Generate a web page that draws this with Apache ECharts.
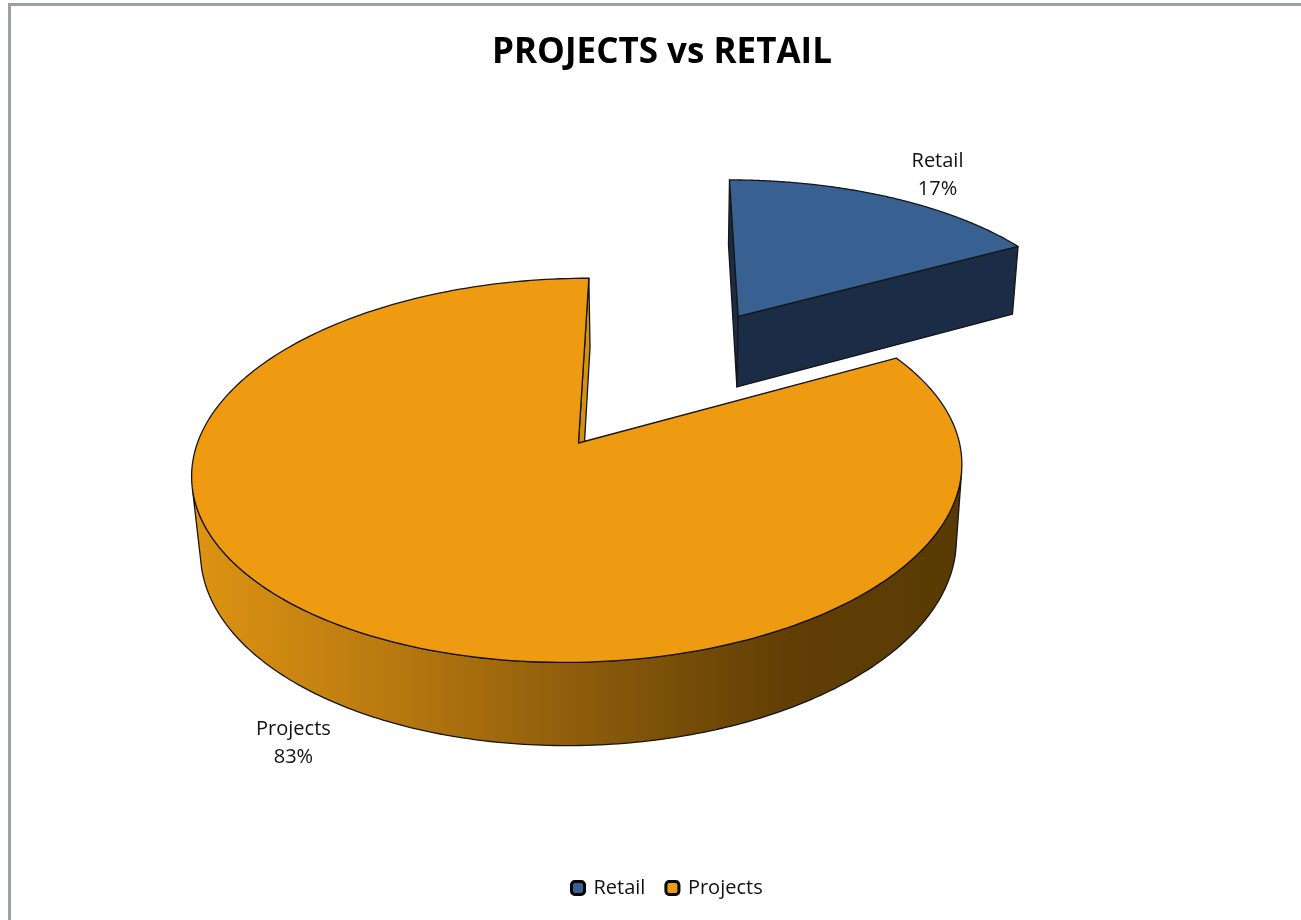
<!DOCTYPE html>
<html>
<head>
<meta charset="utf-8">
<script src="https://cdn.jsdelivr.net/npm/echarts@6/dist/echarts.min.js"></script>
<style>
  html, body { margin: 0; padding: 0; background: #ffffff; }
  #chart { width: 1301px; height: 920px; }
</style>
</head>
<body>
<div id="chart"></div>
<script>
// Share of sales by channel
const categories = ['Retail', 'Projects'];
const values = [17, 83];

// Appearance of each slice: face colours, how far it is pulled out, label offset
const sliceStyle = {
  Retail:   { top: '#386090', side: '#1B2D46', wall: '#1B2D46', explode: 0.865, labelAt: 'top',    labelOffset: [49, -22] },
  Projects: { top: '#EF9B12', side: '#D4900F', wall: null,      explode: 0,     labelAt: 'bottom', labelOffset: [-59, 34] }
};

// Perspective view of the pie (radius, thickness, tilt, camera distance, screen placement)
const view = { R: 374, H: 87, tilt: 29.6 * Math.PI / 180, D: 2330, cx: 662, cy: 443, shiftX: -82 };

const total = values.reduce((a, b) => a + b, 0);
const sinT = Math.sin(view.tilt), cosT = Math.cos(view.tilt);

// world: x right, y up, z toward viewer
function project(x, y, z) {
  const sy = z * sinT - (y - view.H) * cosT;
  const w = z * cosT + y * sinT;
  const s = view.D / (view.D - w);
  return [view.cx + (x + view.shiftX) * s, view.cy + sy * s];
}
const camK = view.D - view.H * sinT;
const camera = [-view.shiftX, view.H + camK * sinT, camK * cosT];

function sliceAngles(idx) {
  let before = 0;
  for (let k = 0; k < idx; k++) before += values[k];
  return [before / total * 2 * Math.PI, (before + values[idx]) / total * 2 * Math.PI];
}

const edge = { stroke: '#151515', lineWidth: 1.3, lineJoin: 'round' };
const labelFont = '"Open Sans", Lato, sans-serif';

function renderSlice(params, api) {
  const idx = api.value(0);
  const v = api.value(1);
  const name = categories[idx];
  const st = sliceStyle[name];
  const [a0, a1] = sliceAngles(idx);
  const mid = (a0 + a1) / 2;
  const R = view.R, H = view.H;
  const ex = Math.sin(mid) * st.explode * R;
  const ez = -Math.cos(mid) * st.explode * R;
  const P = (th, r, y) => project(ex + r * Math.sin(th), y, ez - r * Math.cos(th));
  const faces = (nx, nz, px, pz) => nx * (camera[0] - px) + nz * (camera[2] - pz) > 0;

  const children = [];

  // cut faces on the two straight edges
  [[a0, -1], [a1, 1]].forEach(([th, sgn]) => {
    const nx = sgn * Math.cos(th), nz = sgn * Math.sin(th);
    const px = ex + R / 2 * Math.sin(th), pz = ez - R / 2 * Math.cos(th);
    if (faces(nx, nz, px, pz)) {
      children.push({
        type: 'polygon',
        shape: { points: [P(th, 0, H), P(th, R, H), P(th, R, 0), P(th, 0, 0)] },
        style: Object.assign({ fill: st.side }, edge)
      });
    }
  });

  // rim: runs of the outer wall that face the camera
  const N = 360;
  const runs = [];
  let cur = null;
  for (let k = 0; k <= N; k++) {
    const th = a0 + (a1 - a0) * k / N;
    const px = ex + R * Math.sin(th), pz = ez - R * Math.cos(th);
    const vis = faces(Math.sin(th), -Math.cos(th), px, pz);
    if (vis) {
      if (!cur) { cur = []; runs.push(cur); }
      cur.push(th);
    } else cur = null;
  }
  runs.forEach(run => {
    if (run.length < 2) return;
    const topPts = run.map(th => P(th, R, H));
    const botPts = run.slice().reverse().map(th => P(th, R, 0));
    const pts = topPts.concat(botPts);
    let fill = st.wall;
    if (!fill) {
      const xs = pts.map(p => p[0]);
      const x0 = Math.min.apply(null, xs), x1 = Math.max.apply(null, xs);
      fill = {
        type: 'linear', x: x0, y: 0, x2: x1, y2: 0, global: true,
        colorStops: [
          { offset: 0, color: '#DE9413' },
          { offset: 0.25, color: '#BA7A10' },
          { offset: 0.55, color: '#85570A' },
          { offset: 0.78, color: '#603E05' },
          { offset: 1, color: '#5A3A04' }
        ]
      };
    }
    children.push({ type: 'polygon', shape: { points: pts }, style: Object.assign({ fill: fill }, edge) });
  });

  // top face
  const topFace = [P(0, 0, H)];
  const M = 240;
  for (let k = 0; k <= M; k++) topFace.push(P(a0 + (a1 - a0) * k / M, R, H));
  children.push({ type: 'polygon', shape: { points: topFace }, style: Object.assign({ fill: st.top }, edge) });

  // data label
  const anchor = st.labelAt === 'top' ? P(mid, R, H) : P(mid, R, 0);
  const pct = Math.round(v / total * 100);
  children.push({
    type: 'text',
    x: anchor[0] + st.labelOffset[0],
    y: anchor[1] + st.labelOffset[1],
    style: {
      text: name + '\n' + pct + '%',
      fill: '#111111',
      font: '20px ' + labelFont,
      lineHeight: 28,
      align: 'center',
      verticalAlign: 'middle'
    }
  });

  return { type: 'group', children: children };
}

const chart = echarts.init(document.getElementById('chart'), null, { renderer: 'canvas' });
chart.setOption({
  animation: false,
  backgroundColor: '#ffffff',
  title: {
    text: 'PROJECTS vs RETAIL',
    left: 657,
    top: 31,
    textAlign: 'center',
    textStyle: { fontFamily: labelFont, fontWeight: 'bold', fontSize: 35, color: '#000000' }
  },
  legend: {
    data: categories,
    left: 565,
    bottom: 17,
    itemWidth: 13,
    itemHeight: 13,
    itemGap: 19,
    icon: 'roundRect',
    itemStyle: { borderColor: '#000000', borderWidth: 3 },
    textStyle: { fontFamily: labelFont, fontSize: 20, color: '#111111', padding: [0, 0, 0, 4] }
  },
  graphic: [{
    type: 'rect',
    silent: true,
    shape: { x: 9.5, y: 4.5, width: 1400, height: 1000 },
    style: { fill: 'none', stroke: '#9AA3A0', lineWidth: 3 }
  }],
  series: categories.map((name, i) => ({
    type: 'custom',
    name: name,
    coordinateSystem: 'none',
    itemStyle: { color: sliceStyle[name].top },
    data: [[i, values[i]]],
    renderItem: renderSlice
  }))
});
</script>
</body>
</html>
